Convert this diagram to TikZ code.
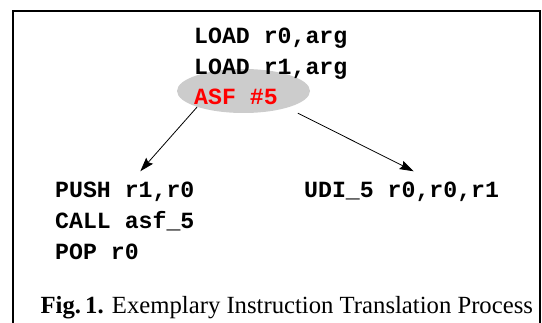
\documentclass[tikz,border=0pt]{standalone}
\usepackage{fontspec}
\setmainfont{Liberation Serif}
\setmonofont{Liberation Mono}
\usepackage{tikz}
\usepackage{xcolor}
\usetikzlibrary{shapes.geometric, arrows.meta}
\tikzstyle{code} = [font=\fontsize{23.2pt}{30pt}\selectfont\ttfamily\bfseries, inner sep=0pt, anchor=base west]
\tikzstyle{oval} = [ellipse, fill=gray!40, minimum width=133pt, minimum height=44pt, inner sep=0pt]
\tikzstyle{arrow} = [line width=0.8pt, -{Stealth[length=14pt, width=9pt, inset=2pt]}]

\begin{document}
\begin{tikzpicture}[x=1pt, y=1pt]
\useasboundingbox (0,0) rectangle (542,322);
\draw [line width=2.6pt] (13,-5) -- (13,311) -- (540,311) -- (540,-5);
\node (oval) [oval] at (243.5,231) {};
\node (load0) [code] at (194,278.5) {LOAD r0,arg};
\node (load1) [code] at (194,247.5) {LOAD r1,arg};
\node (asf) [code, text=red] at (194,217.5) {ASF \#5};
\node (push) [code] at (55,124) {PUSH r1,r0};
\node (call) [code] at (55,93.5) {CALL asf\_5};
\node (pop) [code] at (55,63) {POP r0};
\node (udi) [code] at (304,124) {UDI\_5 r0,r0,r1};
\node (caption) [font=\fontsize{24.7pt}{28pt}\selectfont, anchor=base] at (286.8,9) {\textbf{Fig.\,1.} Exemplary Instruction Translation Process};
\draw [arrow] (oval.199) -- ([xshift=15.5pt, yshift=11pt]push.north);
\draw [arrow, shorten <=12pt] (oval.339) -- ([xshift=12pt, yshift=11pt]udi.north);
\end{tikzpicture}
\end{document}
